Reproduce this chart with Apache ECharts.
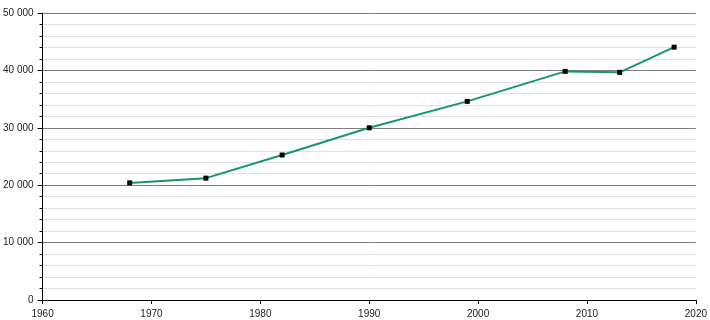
<!DOCTYPE html>
<html>
<head>
<meta charset="utf-8">
<script src="https://cdn.jsdelivr.net/npm/echarts@6/dist/echarts.min.js"></script>
<style>
html,body{margin:0;padding:0;background:#fff;overflow:hidden;}
#c{width:710px;height:320px;}
</style>
</head>
<body>
<div id="c"></div>
<script>
var years = [1968, 1975, 1982, 1990, 1999, 2008, 2013, 2018];
var population = [20400, 21230, 25260, 30000, 34600, 39830, 39660, 44050];

var chart = echarts.init(document.getElementById('c'), null, {renderer: 'canvas', width: 710, height: 320});
function fmt(v){ return String(v).replace(/\B(?=(\d{3})+(?!\d))/g, ' '); }
chart.setOption({
  animation: false,
  backgroundColor: '#fff',
  grid: {left: 41, right: 5, top: 13, bottom: 20, containLabel: false},
  xAxis: {
    type: 'value', min: 1960, max: 2020, interval: 10,
    axisLine: {show: true, lineStyle: {color: '#000', width: 1}},
    axisTick: {show: true, length: 4, lineStyle: {color: '#000'}},
    axisLabel: {color: '#222', fontFamily: 'Liberation Sans', fontSize: 10, margin: 9, formatter: function(v){ return String(v); }},
    splitLine: {show: false}
  },
  yAxis: {
    type: 'value', min: 0, max: 50000, interval: 10000,
    axisLine: {show: true, lineStyle: {color: '#000', width: 1}},
    axisTick: {show: true, length: 5, lineStyle: {color: '#000'}},
    minorTick: {show: true, splitNumber: 5, length: 3, lineStyle: {color: '#000'}},
    axisLabel: {color: '#222', fontFamily: 'Liberation Sans', fontSize: 10, margin: 9, formatter: fmt},
    splitLine: {show: true, lineStyle: {color: '#7f7f7f', width: 1}},
    minorSplitLine: {show: true, lineStyle: {color: '#e0e0e0', width: 1}}
  },
  series: [{
    type: 'line',
    data: years.map(function(y, i){ return [y, population[i]]; }),
    lineStyle: {color: '#169476', width: 2},
    symbol: 'rect', symbolSize: 5,
    itemStyle: {color: '#000'},
    z: 5
  }]
});
</script>
</body>
</html>
